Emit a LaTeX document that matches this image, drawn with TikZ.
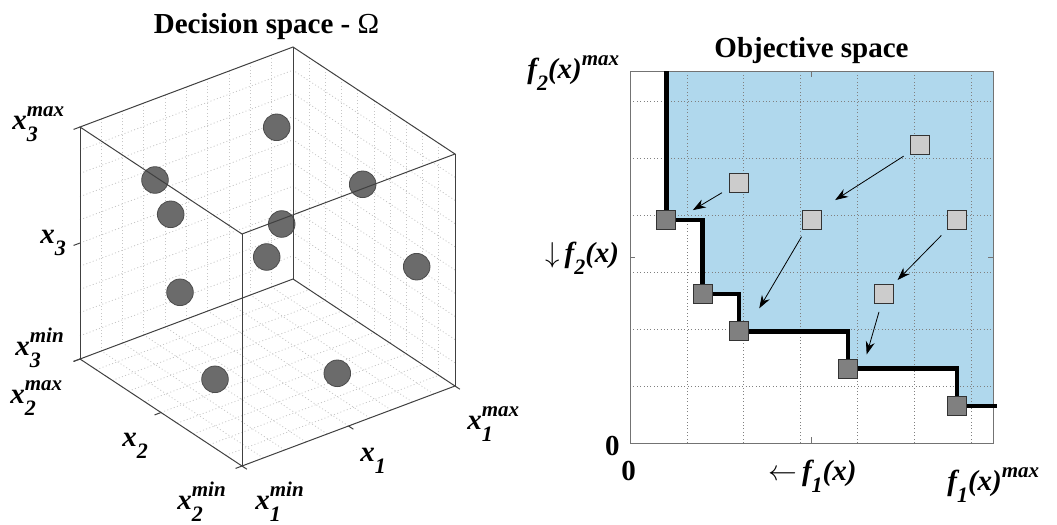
\documentclass[tikz,border=0pt]{standalone}
\usepackage{fontspec}
\setmainfont{Liberation Serif}
\usetikzlibrary{arrows.meta}

\definecolor{front}{RGB}{176,216,237}
\newcommand{\lowr}[1]{\raisebox{-6pt}{\fontsize{11}{11}\selectfont #1}}
\newcommand{\uppr}[1]{\raisebox{6.5pt}{\fontsize{10.5}{11}\selectfont #1}}
\newcommand{\xlab}[2]{x\rlap{\lowr{#1}}\uppr{#2}}
\newcommand{\flab}[1]{f\lowr{#1}(x)}

\begin{document}
\begin{tikzpicture}[x=0.5pt,y=-0.5pt]
\tikzstyle{every node}=[inner sep=0pt,font=\fontsize{14.5}{17}\selectfont\bfseries\itshape]
\tikzstyle{lbl}=[anchor=base west]
\tikzstyle{ttl}=[anchor=base,font=\fontsize{14.5}{17}\selectfont\bfseries]
\tikzstyle{zero}=[font=\fontsize{14.5}{17}\selectfont\bfseries]
\tikzstyle{edge}=[black!75,line width=0.5pt]
\tikzstyle{grd}=[gray!45,line width=0.4pt,dash pattern=on 0.5pt off 1.2pt]
\tikzstyle{ball}=[circle,draw=black!70,fill=black!58,minimum size=13.3pt,line width=0.4pt]
\tikzstyle{dark}=[rectangle,draw=black!80,fill=black!50,minimum size=9.5pt,line width=0.5pt]
\tikzstyle{light}=[dark,fill=black!20]
\tikzstyle{arr}=[-{Stealth[length=6.5pt,width=4.5pt]},line width=0.4pt,shorten <=4pt]

\useasboundingbox (0,0) rectangle (1057,525);

\node[ttl] (dtitle) at (266.5,33) {Decision space - {\mdseries Ω}};
\node[ttl] (otitle) at (811.5,57) {Objective space};

% decision space
\begin{scope}[shift={(242,466)},x={(106.5pt,40pt)},y={(-81pt,53.5pt)},z={(0pt,116pt)}]
\foreach \i in {1,...,9} {
  \draw[grd] (\i/10,1,0) -- (\i/10,1,1);
  \draw[grd] (0,1,\i/10) -- (1,1,\i/10);
  \draw[grd] (1,\i/10,0) -- (1,\i/10,1);
  \draw[grd] (1,0,\i/10) -- (1,1,\i/10);
  \draw[grd] (\i/10,0,0) -- (\i/10,1,0);
  \draw[grd] (0,\i/10,0) -- (1,\i/10,0);
}
\coordinate (fb) at (0,0,0);
\coordinate (rb) at (1,0,0);
\coordinate (lb) at (0,1,0);
\coordinate (bb) at (1,1,0);
\coordinate (ft) at (0,0,1);
\coordinate (rt) at (1,0,1);
\coordinate (lt) at (0,1,1);
\coordinate (bt) at (1,1,1);
\end{scope}

\foreach \p [count=\k] in {(276.7,127.3),(155,180),(170.7,214.3),(362.7,184.3),(281.7,224),
  (266.7,257),(416.7,266.7),(180,292.3),(215,379.3),(337.3,373.3)}
  \node[ball] (b\k) at \p {};

\draw[edge] (lt) -- (ft) -- (rt) -- (bt) -- cycle;
\draw[edge] (lb) -- (fb) -- (rb) -- (bb) -- cycle;
\draw[edge] (lt) -- (lb);
\draw[edge] (ft) -- (fb);
\draw[edge] (rt) -- (rb);
\draw[edge] (bt) -- (bb);

\begin{scope}[shift={(242,466)},x={(106.5pt,40pt)},y={(-81pt,53.5pt)},z={(0pt,116pt)}]
\foreach \t in {0,0.5,1} {
  \draw[edge] (0,1,\t) -- (-0.03,1,\t);
  \draw[edge] (0,\t,0) -- (-0.03,\t,0);
  \draw[edge] (\t,0,0) -- (\t,-0.03,0);
}
\end{scope}

\node[lbl] (x3max) at (12,129) {\xlab{3}{max}};
\node[lbl] (x3) at (40,243) {x\lowr{3}};
\node[lbl] (x3min) at (15,355) {\xlab{3}{min}};
\node[lbl] (x2max) at (10,403) {\xlab{2}{max}};
\node[lbl] (x2) at (122,446) {x\lowr{2}};
\node[lbl] (x2min) at (177,509) {\xlab{2}{min}};
\node[lbl] (x1min) at (255,509) {\xlab{1}{min}};
\node[lbl] (x1) at (360,461) {x\lowr{1}};
\node[lbl] (x1max) at (467,429) {\xlab{1}{max}};

% objective space
\begin{scope}[shift={(630,443)},x={(18.15pt,0pt)},y={(0pt,18.6pt)}]
\coordinate (c1) at (1,6);
\coordinate (c2) at (2,4);
\coordinate (c3) at (3,3);
\coordinate (c4) at (6,2);
\coordinate (c5) at (9,1);
\coordinate (s0) at (1,10);
\coordinate (s1) at (10.1,1);
\fill[front] (s0) -- (c1) -| (c2) -| (c3) -| (c4) -| (c5) -- (10,1) -- (10,10) -- cycle;
\draw[grd,gray] (0,0) grid (10,10);
\draw[black!55,line width=0.5pt] (0,0) rectangle (10,10);
\draw[black!55,line width=0.5pt] (5,0) -- (5,0.15) (5,10) -- (5,9.85) (0,5) -- (0.15,5) (10,5) -- (9.85,5);
\draw[line width=2.2pt] (s0) -- (c1) -| (c2) -| (c3) -| (c4) -| (c5) -- (s1);

\node[dark] (p1) at (c1) {};
\node[dark] (p2) at (c2) {};
\node[dark] (p3) at (c3) {};
\node[dark] (p4) at (c4) {};
\node[dark] (p5) at (c5) {};

\node[light] (q1) at (3,7) {};
\node[light] (q2) at (8,8) {};
\node[light] (q3) at (5,6) {};
\node[light] (q4) at (9,6) {};
\node[light] (q5) at (7,4) {};

\coordinate (t1) at (1.73,6.26);
\coordinate (t2) at (5.65,6.53);
\coordinate (t3) at (3.56,3.62);
\coordinate (t4) at (7.37,4.38);
\coordinate (t5) at (6.52,2.38);
\draw[arr] (q1) -- (t1);
\draw[arr] (q2) -- (t2);
\draw[arr] (q3) -- (t3);
\draw[arr] (q4) -- (t4);
\draw[arr] (q5) -- (t5);
\end{scope}

\node[lbl] (f2max) at (527,78) {\flab{2}\uppr{max}};
\node[lbl] (f2) at (545,262) {$\downarrow$\,\flab{2}};
\node[zero,anchor=base east] (zy) at (620,455) {0};
\node[zero,anchor=base] (zx) at (628.5,480) {0};
\node[lbl] (f1) at (768,480) {$\leftarrow$\,\flab{1}};
\node[lbl] (f1max) at (947,490) {\flab{1}\uppr{max}};
\end{tikzpicture}
\end{document}
